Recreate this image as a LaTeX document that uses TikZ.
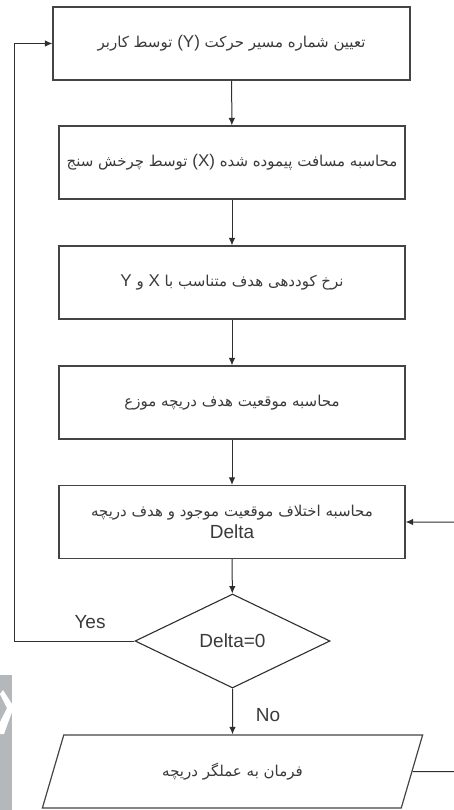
\documentclass[tikz,border=0pt]{standalone}
\usepackage{fontspec}
\setmainfont{Liberation Sans}
\newfontfamily\arabicfont[Script=Arabic]{DejaVu Sans}
\TeXXeTstate=1
\usetikzlibrary{shapes.geometric,arrows.meta}
\definecolor{linec}{HTML}{2E2E2E}
\definecolor{boxc}{HTML}{444444}
\definecolor{txtc}{HTML}{3A3A3A}
\definecolor{wmark}{HTML}{B5B8BB}
\newcommand\fatext[1]{{\arabicfont\fontsize{15}{17}\selectfont\beginR #1\endR}}
\newcommand\latin[1]{\beginL{\normalfont\fontsize{17}{19}\selectfont #1}\endL}
\tikzset{
  procbox/.style={draw=boxc, line width=1.2pt, rectangle, minimum height=73pt, inner sep=0pt, align=center, text=txtc},
  flow/.style={draw=linec, line width=1pt, -{Latex[length=7.5pt,width=6.5pt]}},
  lbl/.style={font=\fontsize{19}{21}\selectfont, text=txtc}
}
\begin{document}
\begin{tikzpicture}[x=1pt,y=-1pt]
\useasboundingbox (0,0) rectangle (454,810);
% watermark
\fill[wmark] (0,675) rectangle (12,810);
\fill[white] (3,690) -- (12,704) -- (12,712) -- (4,734) -- (0,734) -- (0,722) -- (7,708) -- (0,694) -- cycle;

\node[procbox, minimum width=357pt] (b1) at (231.5,43.5) {\fatext{تعیین شماره مسیر حرکت \latin{(Y)} توسط کاربر}};
\node[procbox, minimum width=346pt] (b2) at (232,162.5) {\fatext{محاسبه مسافت پیموده شده \latin{(X)} توسط چرخش سنج}};
\node[procbox, minimum width=346pt] (b3) at (232,282.5) {\fatext{نرخ کوددهی هدف متناسب با \latin{X} و \latin{Y}}};
\node[procbox, minimum width=346pt] (b4) at (232,402.5) {\fatext{محاسبه موقعیت هدف دریچه موزع}};
\node[procbox, minimum width=346pt] (b5) at (232,522) {\fatext{محاسبه اختلاف موقعیت موجود و هدف دریچه}\\[4pt]{\fontsize{19}{21}\selectfont Delta}};
\node[draw=linec, line width=1.1pt, diamond, minimum width=195pt, minimum height=94pt, inner sep=0pt, text=txtc, font=\fontsize{19}{21}\selectfont] (d) at (232.5,641) {Delta=0};
\node[draw=boxc, line width=1.2pt, trapezium, trapezium left angle=62.5, trapezium right angle=117.5, trapezium stretches=true, minimum width=381pt, minimum height=73pt, inner sep=0pt, text=txtc] (p) at (232.5,771.5) {\fatext{فرمان به عملگر دریچه}};

\coordinate (yl) at (14,641);
\coordinate (rl) at (460,771.5);

\draw[flow] (b1) -- (b2);
\draw[flow] (b2) -- (b3);
\draw[flow] (b3) -- (b4);
\draw[flow] (b4) -- (b5);
\draw[flow] (b5) -- (d);
\draw[flow] (d) -- (p);
\draw[flow] (d.west) -- (yl) |- (b1.west);
\draw[flow] (p.east) -- (rl) |- (b5.east);

\node[lbl] (yes) at (90,622) {Yes};
\node[lbl] (no) at (268,715) {No};
\end{tikzpicture}
\end{document}
